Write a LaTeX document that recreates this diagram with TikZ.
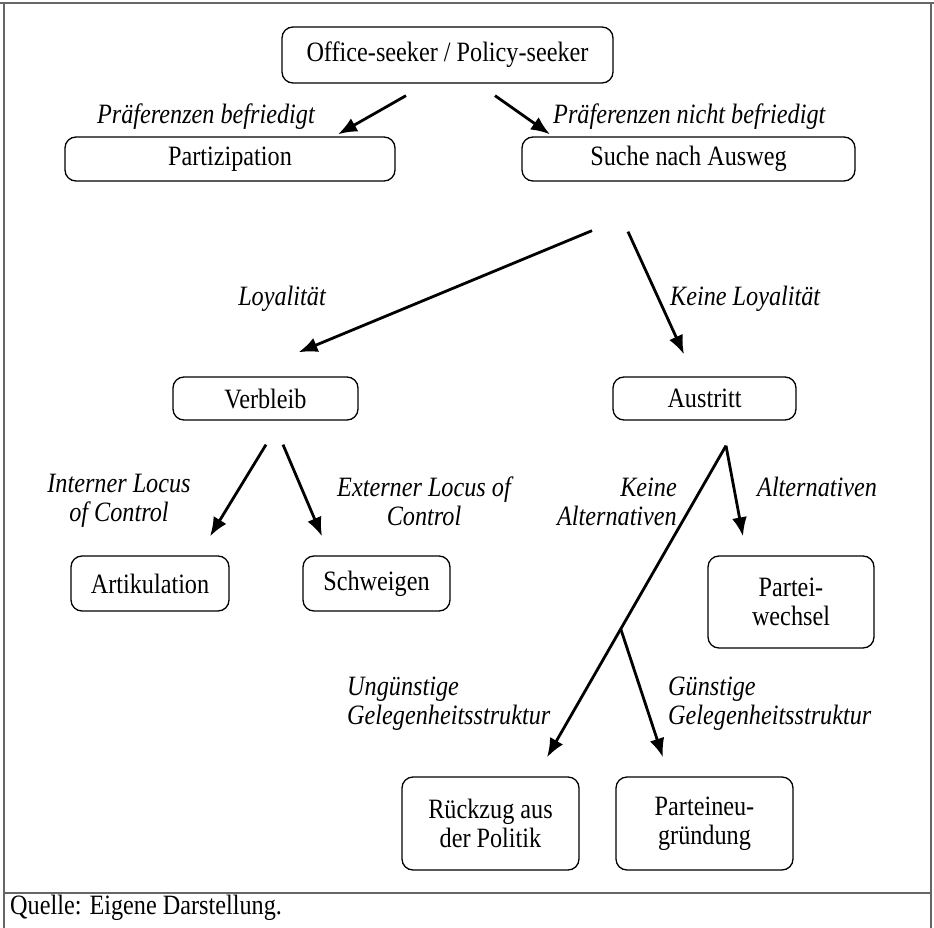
\documentclass[tikz,border=0pt]{standalone}
\usepackage{fontspec}
\setmainfont[FakeStretch=0.865]{Liberation Serif}
\usetikzlibrary{arrows.meta}
\newcommand\diafont{\fontsize{28}{29}\selectfont}
\tikzstyle{box}=[rectangle,draw,line width=1.3pt,rounded corners=11pt,align=center,inner sep=0pt,font=\diafont]
\tikzstyle{lbl}=[inner sep=0pt,align=center,font=\diafont\itshape]
\tikzstyle{arrow}=[draw,line width=2.8pt,-{Latex[length=19pt,width=15pt]}]
\tikzstyle{frame}=[draw=black!60,line width=1.8pt]

\begin{document}
\begin{tikzpicture}[x=1pt,y=-1pt,node distance=104pt]
		\useasboundingbox (0,0) rectangle (934,928);
		\draw[frame] (0,3) -- (934,3);
		\draw[frame] (4,3) -- (4,928);
		\draw[frame] (931,3) -- (931,928);
		\draw[frame] (4,893) -- (931,893);

		\node (os) [box, minimum width=331pt, minimum height=56pt] at (447.5,55) {Office-seeker / Policy-seeker};
		\node (par) [box, minimum width=330pt, minimum height=44pt, below of=os, xshift=-217.5pt] {Partizipation};
		\node (such) [box, minimum width=333pt, minimum height=44pt, below of=os, xshift=241pt] {Suche nach Ausweg};
		\node (verb) [box, minimum width=185pt, minimum height=43pt, below of=par, xshift=35.5pt, yshift=-135.5pt] {Verbleib};
		\node (aus) [box, minimum width=183pt, minimum height=43pt, below of=such, xshift=16pt, yshift=-135.5pt] {Austritt};
		\node (art) [box, minimum width=158pt, minimum height=55pt, below of=verb, xshift=-115.5pt, yshift=-81pt] {Artikulation};
		\node (schw) [box, minimum width=147pt, minimum height=55pt, below of=verb, xshift=111pt, yshift=-81pt] {Schweigen};
		\node (pw) [box, minimum width=166pt, minimum height=92pt, below of=aus, xshift=86.5pt, yshift=-99.5pt] {Partei-\\wechsel};
		\node (rz) [box, minimum width=177pt, minimum height=93pt, below of=pw, xshift=-300.5pt, yshift=-117.5pt] {Rückzug aus\\der Politik};
		\node (png) [box, minimum width=177pt, minimum height=93pt, right of=rz, xshift=110pt] {Parteineu-\\gründung};

		\node (lpb) [lbl, anchor=east] at (315,117) {Präferenzen befriedigt};
		\node (lpnb) [lbl, anchor=west] at (553,117) {Präferenzen nicht befriedigt};
		\node (lloy) [lbl] at (282,299) {Loyalität};
		\node (lkloy) [lbl, anchor=west] at (670,299) {Keine Loyalität};
		\node (lint) [lbl] at (119,501) {Interner Locus\\of Control};
		\node (lext) [lbl] at (424,501) {Externer Locus of\\Control};
		\node (lkalt) [lbl, anchor=east, align=right] at (677,502) {Keine\\Alternativen};
		\node (lalt) [lbl, anchor=west] at (757,487) {Alternativen};
		\node (lung) [lbl, anchor=west, align=left] at (347,704) {Ungünstige\\Gelegenheitsstruktur};
		\node (lgue) [lbl, anchor=west, align=left] at (668,704) {Günstige\\Gelegenheitsstruktur};

		\draw[arrow] ([xshift=-41.5pt,yshift=-12pt]os.south) -- ([xshift=108pt,yshift=2pt]par.north);
		\draw[arrow] ([xshift=47.5pt,yshift=-12pt]os.south) -- ([xshift=-138.5pt,yshift=2pt]such.north);
		\draw[arrow] ([xshift=-96.5pt,yshift=-49pt]such.south) -- ([xshift=33pt,yshift=24pt]verb.north);
		\draw[arrow] ([xshift=-60.5pt,yshift=-50pt]such.south) -- ([xshift=-20.5pt,yshift=22pt]aus.north);
		\draw[arrow] ([xshift=0.5pt,yshift=-24pt]verb.south) -- ([xshift=60pt,yshift=19pt]art.north);
		\draw[arrow] ([xshift=17.5pt,yshift=-24pt]verb.south) -- ([xshift=-54.5pt,yshift=19pt]schw.north);
		\draw[arrow] ([xshift=21.5pt,yshift=-25pt]aus.south) -- ([xshift=-48pt,yshift=19pt]pw.north);
		\draw[arrow] ([xshift=21.5pt,yshift=-25pt]aus.south) -- coordinate[pos=0.588] (jn) ([xshift=56.5pt,yshift=19pt]rz.north);
		\draw[arrow] (jn) -- ([xshift=-41.5pt,yshift=19pt]png.north);

		\node (src) [anchor=west, inner sep=0pt, font=\diafont] at (10,908) {Quelle: Eigene Darstellung.};
\end{tikzpicture}
\end{document}
